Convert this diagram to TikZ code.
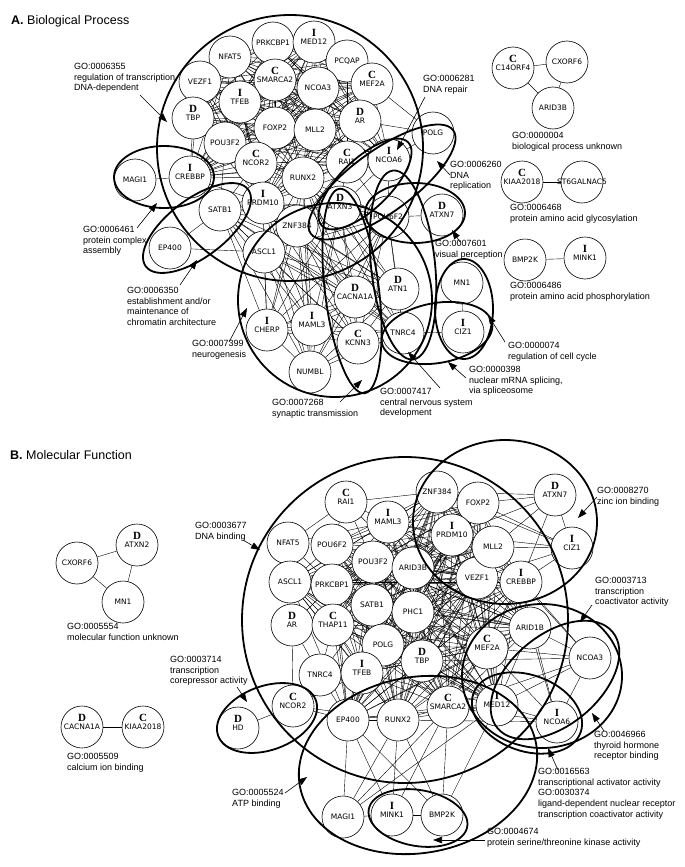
\documentclass[tikz,border=0pt]{standalone}
\usepackage{fontspec}
\setmainfont{Liberation Sans}
\newfontfamily\nf{DejaVu Sans}
\newfontfamily\lfont{Liberation Serif}
\usetikzlibrary{arrows.meta,backgrounds}
\tikzset{
 gene/.style={circle,draw,line width=0.6pt,fill=white,minimum size=42pt,inner sep=0pt,font=\nf\fontsize{7.5}{8}\selectfont},
 lettr/.style={inner sep=0pt,font=\lfont\bfseries\fontsize{11}{11}\selectfont},
 edge/.style={line width=0.4pt},
 goell/.style={line width=1.8pt},
 golab/.style={anchor=north west,inner sep=0pt,align=left,font=\fontsize{9}{10.7}\selectfont},
 lead/.style={line width=0.6pt,-{Triangle[length=9pt,width=6.5pt]}},
 ttl/.style={anchor=west,inner sep=0pt,font=\fontsize{12.5}{14}\selectfont}
}
\newcommand\gn[5]{\node[gene] (#1) at (#2,#3) {\makebox[0pt]{#5}};%
 \if\relax\detokenize{#4}\relax\else\node[lettr] (#1-l) at ([yshift=9.5pt]#1.center) {#4};\fi}
\newcommand\clq[1]{\foreach \ua [count=\ii] in #1 {\foreach \vb [count=\jj] in #1 {\ifnum\jj>\ii\relax\draw[edge] (\ua) -- (\vb);\fi}}}
\newcommand\fan[2]{\foreach \wc in {#2} {\draw[edge] (#1) -- (\wc);}}
\def\coreA{aNFAT5,aPRKCBP1,aMED12,aPCQAP,aSMARCA2,aNCOA3,aMEF2A,aVEZF1,aTFEB,aTBP,aFOXP2,aMLL2,aAR,aPOU3F2,aNCOR2,aRUNX2,aRAI1,aCREBBP,aPRDM10,aNCOA6}
\def\lowA{aASCL1,aZNF384,aATXN3,aPOU6F2,aCHERP,aMAML3,aNUMBL,aCACNA1A,aKCNN3,aATN1,aTNRC4,aPRDM10,aSATB1,aRUNX2}
\def\coreB{bPOU6F2,bMAML3,bPOU3F2,bARID3B,bPRKCBP1,bSATB1,bPHC1,bTHAP11,bPOLG,bTBP,bTFEB,bMEF2A,bVEZF1,bCREBBP,bZNF384,bFOXP2,bPRDM10,bMLL2,bARID1B,bSMARCA2,bRUNX2,bEP400,bMED12,bASCL1}
\begin{document}
\begin{tikzpicture}[x=1pt,y=-1pt]
\path[use as bounding box] (0,0) rectangle (685,867);
% ---------------- titles
\node[ttl] (tA) at (11,21) {\textbf{A.} Biological Process};
\node[ttl] (tB) at (10,455) {\textbf{B.} Molecular Function};
% ---------------- panel A nodes
\gn{aNFAT5}{230}{57}{}{NFAT5}
\gn{aPRKCBP1}{273}{43}{}{PRKCBP1}
\gn{aMED12}{314}{42}{I}{MED12}
\gn{aPCQAP}{347}{61}{}{PCQAP}
\gn{aVEZF1}{200}{82}{}{VEZF1}
\gn{aSMARCA2}{275}{80}{C}{SMARCA2}
\gn{aNCOA3}{318}{88}{}{NCOA3}
\gn{aMEF2A}{372}{84}{C}{MEF2A}
\gn{aTFEB}{240}{102}{I}{TFEB}
\gn{aTBP}{193}{118}{D}{TBP}
\gn{aFOXP2}{275}{128}{}{FOXP2}
\gn{aMLL2}{315}{130}{}{MLL2}
\gn{aAR}{360}{121}{D}{AR}
\gn{aPOU3F2}{225}{143}{}{POU3F2}
\gn{aNCOR2}{256}{163}{C}{NCOR2}
\gn{aRUNX2}{303}{178}{}{RUNX2}
\gn{aRAI1}{347}{162}{C}{RAI1}
\gn{aNCOA6}{389}{160}{I}{NCOA6}
\gn{aPOLG}{433}{133}{}{POLG}
\gn{aCREBBP}{190}{177}{I}{CREBBP}
\gn{aMAGI1}{135}{180}{}{MAGI1}
\gn{aSATB1}{220}{210}{}{SATB1}
\gn{aPRDM10}{263}{203}{I}{PRDM10}
\gn{aATXN3}{340}{207}{D}{ATXN3}
\gn{aPOU6F2}{388}{217}{}{POU6F2}
\gn{aATXN7}{442}{215}{D}{ATXN7}
\gn{aZNF384}{297}{226}{}{ZNF384}
\gn{aASCL1}{264}{252}{}{ASCL1}
\gn{aEP400}{170}{248}{}{EP400}
\gn{aCHERP}{267}{330}{I}{CHERP}
\gn{aMAML3}{312}{325}{I}{MAML3}
\gn{aNUMBL}{310}{372}{}{NUMBL}
\gn{aCACNA1A}{355}{297}{D}{CACNA1A}
\gn{aKCNN3}{358}{343}{C}{KCNN3}
\gn{aATN1}{398}{289}{D}{ATN1}
\gn{aTNRC4}{403}{333}{}{TNRC4}
\gn{aMN1}{462}{283}{}{MN1}
\gn{aCIZ1}{463}{332}{I}{CIZ1}
\gn{aC14ORF4}{513}{68}{C}{C14ORF4}
\gn{aCXORF6}{567}{62}{}{CXORF6}
\gn{aARID3B}{553}{108}{}{ARID3B}
\gn{aKIAA2018}{522}{182}{C}{KIAA2018}
\gn{aST6GALNAC5}{582}{182}{}{ST6GALNAC5}
\gn{aBMP2K}{525}{260}{}{BMP2K}
\gn{aMINK1}{585}{258}{I}{MINK1}
% ---------------- panel B nodes
\gn{bCXORF6}{77}{563}{}{CXORF6}
\gn{bATXN2}{137}{545}{D}{ATXN2}
\gn{bMN1}{123}{602}{}{MN1}
\gn{bCACNA1A}{82}{727}{D}{CACNA1A}
\gn{bKIAA2018}{143}{727}{C}{KIAA2018}
\gn{bRAI1}{346}{502}{C}{RAI1}
\gn{bNFAT5}{288}{543}{}{NFAT5}
\gn{bPOU6F2}{332}{545}{}{POU6F2}
\gn{bMAML3}{388}{522}{I}{MAML3}
\gn{bPOU3F2}{373}{562}{}{POU3F2}
\gn{bARID3B}{413}{568}{}{ARID3B}
\gn{bASCL1}{290}{582}{}{ASCL1}
\gn{bPRKCBP1}{332}{585}{}{PRKCBP1}
\gn{bSATB1}{372}{605}{}{SATB1}
\gn{bPHC1}{413}{612}{}{PHC1}
\gn{bAR}{292}{625}{D}{AR}
\gn{bTHAP11}{333}{625}{C}{THAP11}
\gn{bPOLG}{383}{645}{}{POLG}
\gn{bTBP}{422}{661}{D}{TBP}
\gn{bTNRC4}{320}{675}{}{TNRC4}
\gn{bTFEB}{362}{673}{I}{TFEB}
\gn{bMEF2A}{487}{648}{C}{MEF2A}
\gn{bVEZF1}{477}{578}{}{VEZF1}
\gn{bCREBBP}{521}{582}{I}{CREBBP}
\gn{bARID1B}{530}{628}{}{ARID1B}
\gn{bZNF384}{437}{492}{}{ZNF384}
\gn{bFOXP2}{478}{503}{}{FOXP2}
\gn{bPRDM10}{452}{535}{I}{PRDM10}
\gn{bMLL2}{493}{547}{}{MLL2}
\gn{bATXN7}{555}{495}{D}{ATXN7}
\gn{bCIZ1}{572}{548}{I}{CIZ1}
\gn{bNCOA3}{590}{658}{}{NCOA3}
\gn{bMED12}{497}{705}{I}{MED12}
\gn{bNCOA6}{557}{722}{I}{NCOA6}
\gn{bSMARCA2}{448}{707}{C}{SMARCA2}
\gn{bRUNX2}{398}{720}{}{RUNX2}
\gn{bEP400}{348}{720}{}{EP400}
\gn{bNCOR2}{293}{706}{C}{NCOR2}
\gn{bHD}{238}{728}{D}{HD}
\gn{bMAGI1}{343}{817}{}{MAGI1}
\gn{bMINK1}{392}{815}{I}{MINK1}
\gn{bBMP2K}{442}{815}{}{BMP2K}
% ---------------- edges (background)
\begin{pgfonlayer}{background}
\fill[white] (0,0) rectangle (685,867);
\clq{\coreA}
\clq{\lowA}
\fan{aMAGI1}{aCREBBP}
\fan{aEP400}{aSATB1,aASCL1}
\fan{aSATB1}{aCREBBP,aPOU3F2,aNCOR2}
\fan{aPOLG}{aNCOA6,aAR,aMEF2A}
\fan{aPOU6F2}{aATXN7,aRAI1,aNCOA6}
\fan{aATXN3}{aRAI1,aNCOA6,aNCOR2}
\fan{aZNF384}{aNCOR2,aRAI1}
\fan{aCIZ1}{aMN1,aTNRC4}
\fan{aC14ORF4}{aCXORF6,aARID3B}
\fan{aCXORF6}{aARID3B}
\fan{aKIAA2018}{aST6GALNAC5}
\fan{aBMP2K}{aMINK1}
\clq{\coreB}
\fan{bRAI1}{bNFAT5,bMAML3,bZNF384,bPOU6F2,bPOU3F2,bARID3B}
\fan{bNFAT5}{bPOU6F2,bASCL1,bPRKCBP1,bMAML3}
\fan{bAR}{bNCOR2,bTHAP11,bPRKCBP1,bASCL1,bTNRC4}
\fan{bTNRC4}{bTFEB,bTHAP11,bPOLG,bEP400,bNCOR2,bSATB1}
\fan{bNCOR2}{bEP400,bHD,bTFEB,bRUNX2}
\fan{bATXN7}{bZNF384,bFOXP2,bMLL2,bCIZ1,bCREBBP,bPRDM10}
\fan{bCIZ1}{bFOXP2,bMLL2,bCREBBP,bVEZF1,bPRDM10,bZNF384}
\fan{bNCOA3}{bMEF2A,bARID1B,bCREBBP,bMED12,bNCOA6,bSMARCA2,bTBP,bMLL2}
\fan{bNCOA6}{bMED12,bMEF2A,bSMARCA2,bARID1B,bCREBBP,bRUNX2}
\fan{bMAGI1}{bEP400,bRUNX2,bSMARCA2,bMINK1,bMED12}
\fan{bMINK1}{bRUNX2,bEP400,bBMP2K,bSMARCA2}
\fan{bBMP2K}{bRUNX2,bSMARCA2,bMED12,bEP400}
\fan{bCXORF6}{bATXN2,bMN1}
\fan{bATXN2}{bMN1}
\fan{bCACNA1A}{bKIAA2018}
\end{pgfonlayer}
% ---------------- GO ellipses, panel A
\draw[goell] (290,148) ellipse [x radius=133, y radius=133];
\draw[goell] (164,177) ellipse [x radius=50, y radius=31];
\draw[goell, rotate around={37:(197,228)}] (197,228) ellipse [x radius=64, y radius=29];
\draw[goell, rotate around={44:(365,184)}] (365,184) ellipse [x radius=60, y radius=25];
\draw[goell, rotate around={36:(382,182)}] (382,182) ellipse [x radius=88, y radius=31];
\draw[goell] (415,213) ellipse [x radius=50, y radius=30];
\draw[goell] (335,300) ellipse [x radius=97, y radius=97];
\draw[goell, rotate around={7:(352,291)}] (352,291) ellipse [x radius=27, y radius=103];
\draw[goell, rotate around={6:(403,265)}] (403,265) ellipse [x radius=32, y radius=95];
\draw[goell, rotate around={10:(437,333)}] (437,333) ellipse [x radius=56, y radius=30];
\draw[goell] (464,309) ellipse [x radius=29, y radius=50];
% ---------------- GO ellipses, panel B
\draw[goell] (405,620) ellipse [x radius=163, y radius=163];
\draw[goell] (505,522) ellipse [x radius=92, y radius=82];
\draw[goell] (542,676) ellipse [x radius=80, y radius=72];
\draw[goell, rotate around={40:(555,680)}] (555,680) ellipse [x radius=75, y radius=45];
\draw[goell, rotate around={-20:(527,713)}] (527,713) ellipse [x radius=57, y radius=38];
\draw[goell, rotate around={10:(418,765)}] (418,765) ellipse [x radius=120, y radius=88];
\draw[goell, rotate around={-10:(418,818)}] (418,818) ellipse [x radius=50, y radius=28];
\draw[goell, rotate around={20:(267,718)}] (267,718) ellipse [x radius=52, y radius=32];
% ---------------- GO labels, panel A
\node[golab] (L6355) at (74,63) {GO:0006355\\regulation of transcription,\\DNA-dependent};
\node[golab] (L6461) at (83,226) {GO:0006461\\protein complex\\assembly};
\node[golab] (L6350) at (127,287) {GO:0006350\\establishment and/or\\maintenance of\\chromatin architecture};
\node[golab] (L6281) at (423,75) {GO:0006281\\DNA repair};
\node[golab] (L6260) at (450,161) {GO:0006260\\DNA\\replication};
\node[golab] (L0004) at (512,132) {GO:0000004\\biological process unknown};
\node[golab] (L6468) at (510,204) {GO:0006468\\protein amino acid glycosylation};
\node[golab] (L7601) at (435,240) {GO:0007601\\visual perception};
\node[golab] (L6486) at (510,282) {GO:0006486\\protein amino acid phosphorylation};
\node[golab] (L0074) at (508,342) {GO:0000074\\regulation of cell cycle};
\node[golab] (L0398) at (469,366) {GO:0000398\\nuclear mRNA splicing,\\via spliceosome};
\node[golab] (L7417) at (380,388) {GO:0007417\\central nervous system\\development};
\node[golab] (L7268) at (272,399) {GO:0007268\\synaptic transmission};
\node[golab] (L7399) at (192,340) {GO:0007399\\neurogenesis};
% ---------------- GO labels, panel B
\node[golab] (L3677) at (195,522) {GO:0003677\\DNA binding};
\node[golab] (L5554) at (67,623) {GO:0005554\\molecular function unknown};
\node[golab] (L3714) at (170,656) {GO:0003714\\transcription\\corepressor activity};
\node[golab] (L5509) at (67,753) {GO:0005509\\calcium ion binding};
\node[golab] (L5524) at (232,789) {GO:0005524\\ATP binding};
\node[golab] (L8270) at (597,487) {GO:0008270\\zinc ion binding};
\node[golab] (L3713) at (595,577) {GO:0003713\\transcription\\coactivator activity};
\node[golab] (L6966) at (594,731) {GO:0046966\\thyroid hormone\\receptor binding};
\node[golab] (L6563) at (538,768) {GO:0016563\\transcriptional activator activity\\GO:0030374\\ligand-dependent nuclear receptor\\transcription coactivator activity};
\node[golab] (L4674) at (487,828) {GO:0004674\\protein serine/threonine kinase activity};
% ---------------- leader arrows
\foreach \nm/\sx/\sy/\tx/\ty in {
 6355/140/95/167/122, 6461/137/228/157/203, 6350/180/285/197/260,
 6281/425/97/397/150, 6260/450/175/437/161, 7601/460/242/452/230,
 0074/505/342/488/315, 0398/466/378/448/362, 7417/440/388/408/352,
 7268/340/402/362/380, 7399/229/342/247/308,
 3677/243/540/260/550, 8270/597/497/578/518, 3713/592/605/580/622,
 6966/604/731/592/713, 6563/558/770/548/748, 5524/285/793/307/777,
 4674/485/840/433/840, 3714/237/687/247/702}
 {\coordinate (s\nm) at (\sx,\sy); \coordinate (t\nm) at (\tx,\ty); \draw[lead] (s\nm) -- (t\nm);}
\end{tikzpicture}
\end{document}
